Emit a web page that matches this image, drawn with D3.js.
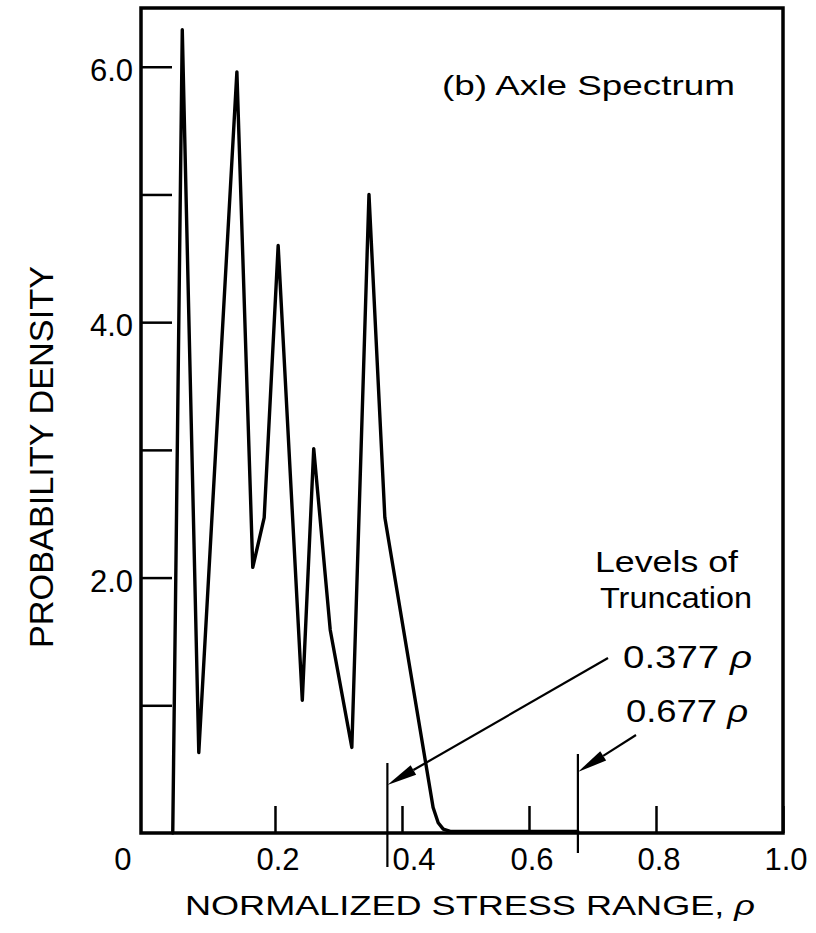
<!DOCTYPE html>
<html>
<head>
<meta charset="utf-8">
<script src="https://cdn.jsdelivr.net/npm/d3@7"></script>
<style>
  html, body { margin: 0; padding: 0; background: #fff; }
  svg { display: block; }
  text { font-family: "Liberation Sans", Arial, sans-serif; fill: #000; }
</style>
</head>
<body>
<svg id="chart" width="816" height="933"></svg>
<script>
// ---- data ----
const stressRange = [0.039, 0.054, 0.080, 0.140, 0.165, 0.183, 0.205, 0.243, 0.261, 0.287, 0.321, 0.348, 0.373, 0.449, 0.457, 0.465, 0.476, 0.677];
const density     = [0.00, 6.29, 0.63, 5.96, 2.08, 2.47, 4.60, 1.04, 3.01, 1.59, 0.67, 5.00, 2.47, 0.20, 0.08, 0.03, 0.012, 0.012];
const xTickValues = [0.2, 0.4, 0.6, 0.8, 1.0];
const xTickLabels = ["0.2", "0.4", "0.6", "0.8", "1.0"];
const yTickValues = [1, 2, 3, 4, 5, 6];
const yLabelValues = [2, 4, 6];
const yLabelTexts = ["2.0", "4.0", "6.0"];
const truncLevels = [0.377, 0.677];
const truncLabels = ["0.377", "0.677"];
const titleText = "(b) Axle Spectrum";
const xTitle = "NORMALIZED STRESS RANGE, ";
const yTitle = "PROBABILITY DENSITY";

const svg = d3.select("#chart");
const x = d3.scaleLinear().domain([-0.011, 1.0]).range([141, 783]);
const y = d3.scaleLinear().domain([0, 6.46]).range([833, 8]);

// ticks (inward)
const gx = svg.append("g").attr("transform", `translate(0,${y(0)})`)
  .call(d3.axisBottom(x).tickValues(xTickValues).tickSize(-27).tickFormat(""));
gx.select(".domain").remove();
gx.selectAll("line").attr("stroke", "#000").attr("stroke-width", 2.5);

const gy = svg.append("g").attr("transform", `translate(${x(-0.011)},0)`)
  .call(d3.axisLeft(y).tickValues(yTickValues).tickSize(-31).tickFormat(""));
gy.select(".domain").remove();
gy.selectAll("line").attr("stroke", "#000").attr("stroke-width", 2.5);

// frame
svg.append("rect")
  .attr("x", x(-0.011)).attr("y", y(6.46))
  .attr("width", x(1.0) - x(-0.011)).attr("height", y(0) - y(6.46))
  .attr("fill", "none").attr("stroke", "#000").attr("stroke-width", 3.5);

// x tick labels
const xLabelShift = { "0.4": 9 };
svg.selectAll(".xl").data(xTickValues).enter().append("text")
  .attr("x", (d, i) => x(d) + 3 + (xLabelShift[xTickLabels[i]] || 0))
  .attr("y", 870).attr("text-anchor", "middle")
  .attr("font-size", 31).text((d, i) => xTickLabels[i]);
svg.append("text").attr("x", x(0) - 25).attr("y", 870)
  .attr("text-anchor", "middle").attr("font-size", 31).text("0");

// y tick labels
svg.selectAll(".yl").data(yLabelValues).enter().append("text")
  .attr("x", 133).attr("y", d => y(d) + 14)
  .attr("text-anchor", "end").attr("font-size", 31)
  .text((d, i) => yLabelTexts[i]);

// data line
const pts = stressRange.map((v, i) => [v, density[i]]);
svg.append("path").datum(pts)
  .attr("d", d3.line().x(d => x(d[0])).y(d => y(d[1])))
  .attr("fill", "none").attr("stroke", "#000")
  .attr("stroke-width", 3.4).attr("stroke-linejoin", "round").attr("stroke-linecap", "round");

// truncation lines
const lineTops = [763, 754];
const lineBottoms = [867, 853];
truncLevels.forEach((t, i) => {
  svg.append("line").attr("x1", x(t)).attr("x2", x(t))
    .attr("y1", lineTops[i]).attr("y2", lineBottoms[i])
    .attr("stroke", "#000").attr("stroke-width", 2.2);
});

// arrows
const arrowStarts = [[608, 658], [636, 735]];
const arrowTipY = [785, 772];
function arrow(x1, y1, x2, y2) {
  const dx = x2 - x1, dy = y2 - y1, L = Math.hypot(dx, dy);
  const ux = dx / L, uy = dy / L;
  const len = 30, hw = 5.5;
  const bx = x2 - ux * len, by = y2 - uy * len;
  svg.append("line").attr("x1", x1).attr("y1", y1).attr("x2", bx).attr("y2", by)
    .attr("stroke", "#000").attr("stroke-width", 2.2);
  svg.append("path")
    .attr("d", `M${x2},${y2}L${bx - uy * hw},${by + ux * hw}L${bx + uy * hw},${by - ux * hw}Z`)
    .attr("fill", "#000");
}
truncLevels.forEach((t, i) => arrow(arrowStarts[i][0], arrowStarts[i][1], x(t), arrowTipY[i]));

// annotation texts
svg.append("text").attr("x", 595).attr("y", 572).attr("font-size", 29)
  .attr("textLength", 143).attr("lengthAdjust", "spacingAndGlyphs").text("Levels of");
svg.append("text").attr("x", 600).attr("y", 608).attr("font-size", 29)
  .attr("textLength", 152).attr("lengthAdjust", "spacingAndGlyphs").text("Truncation");
const labY = [668, 722];
const labX = [623, 626];
const labW = [129, 122];
truncLabels.forEach((s, i) => {
  const t = svg.append("text").attr("x", labX[i]).attr("y", labY[i]).attr("font-size", 31)
    .attr("textLength", labW[i]).attr("lengthAdjust", "spacingAndGlyphs");
  t.append("tspan").text(s);
  t.append("tspan").attr("font-style", "italic").text(" ρ");
});

// title
svg.append("text").attr("x", 442).attr("y", 95).attr("font-size", 28)
  .attr("textLength", 293).attr("lengthAdjust", "spacingAndGlyphs").text(titleText);

// axis titles
const xt = svg.append("text").attr("x", 185).attr("y", 915).attr("font-size", 28)
  .attr("textLength", 570).attr("lengthAdjust", "spacingAndGlyphs");
xt.append("tspan").text(xTitle);
xt.append("tspan").attr("font-style", "italic").text("ρ");

svg.append("text")
  .attr("transform", "translate(53,457) rotate(-90)")
  .attr("text-anchor", "middle").attr("font-size", 34)
  .attr("textLength", 382).attr("lengthAdjust", "spacingAndGlyphs")
  .text(yTitle);
</script>
</body>
</html>
